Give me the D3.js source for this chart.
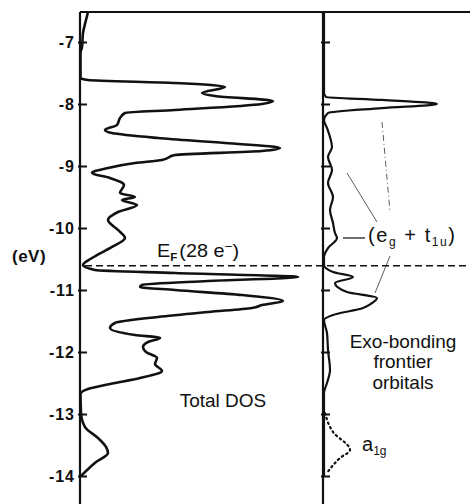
<!DOCTYPE html>
<html>
<head>
<meta charset="utf-8">
<script src="https://cdn.jsdelivr.net/npm/d3@7"></script>
<style>
  html, body { margin: 0; padding: 0; background: #fff; }
  svg { display: block; }
  text { font-family: "Liberation Sans", Arial, sans-serif; fill: #111; }
</style>
</head>
<body>
<script>
// ---------- data (energy in eV, DOS in arbitrary units) ----------
const tickValues = [-7, -8, -9, -10, -11, -12, -13, -14];
const tickLabels = ["-7", "-8", "-9", "-10", "-11", "-12", "-13", "-14"];

const totalE = [-6.516, -6.645, -6.855, -7.081, -7.18, -7.58, -7.613, -7.661, -7.726, -7.823, -7.871, -7.952, -8.0, -8.097, -8.145, -8.226, -8.339, -8.419, -8.468, -8.548, -8.629, -8.71, -8.758, -8.823, -8.903, -8.952, -9.032, -9.113, -9.194, -9.306, -9.435, -9.5, -9.548, -9.629, -9.742, -9.871, -10.032, -10.161, -10.306, -10.484, -10.597, -10.677, -10.726, -10.79, -10.855, -10.919, -10.952, -11.0, -11.081, -11.177, -11.242, -11.29, -11.355, -11.435, -11.532, -11.613, -11.726, -11.774, -11.839, -11.919, -12.0, -12.097, -12.194, -12.306, -12.419, -12.516, -12.597, -12.677, -12.984, -13.21, -13.387, -13.532, -13.629, -13.774, -13.935, -14.0];
const totalDos = [0.8, 0.6, 0.3, 0.2, 0.05, 0.05, 0.8, 9.5, 14.5, 12.2, 13.5, 19.3, 18.2, 9.5, 4.5, 4.0, 3.7, 2.5, 3.2, 7.8, 14.5, 20.0, 18.2, 9.5, 8.2, 5.5, 2.8, 1.2, 3.0, 4.4, 4.0, 5.5, 4.2, 5.7, 3.8, 2.8, 3.8, 4.5, 3.2, 1.2, 0.3, 1.5, 9.5, 21.8, 12.8, 6.2, 6.0, 9.5, 16.2, 20.3, 18.2, 17.2, 12.8, 7.8, 3.5, 3.0, 5.5, 8.0, 6.8, 6.3, 6.6, 7.7, 7.5, 8.2, 6.0, 3.0, 0.8, 0.05, 0.1, 0.5, 1.8, 2.6, 2.8, 1.6, 0.5, 0.1];

const exoE = [-6.516, -7.823, -7.887, -7.935, -8.0, -8.065, -8.145, -8.258, -8.387, -8.532, -8.694, -8.855, -9.065, -9.274, -9.5, -9.71, -9.919, -10.081, -10.161, -10.323, -10.468, -10.597, -10.71, -10.79, -10.887, -11.032, -11.129, -11.21, -11.29, -11.403, -11.484, -11.694, -11.968, -12.29, -12.5, -12.661, -14.0];
const exoDos = [0.1, 0.1, 0.3, 5.9, 11.4, 5.9, 0.5, 0.1, 0.4, 0.7, 0.9, 0.5, 0.9, 0.5, 1.0, 0.7, 1.0, 1.2, 1.4, 0.5, 0.1, 0.1, 1.0, 3.0, 1.2, 2.4, 5.4, 4.9, 4.0, 1.0, 0.1, 0.4, 0.5, 0.7, 0.4, 0.1, 0.1];

const a1gE = [-12.984, -13.29, -13.58, -13.71, -13.95];
const a1gDos = [0.2, 1.0, 2.7, 1.7, 0.4];

const fermiE = -10.61;

// ---------- layout ----------
const W = 470, H = 504;
const eTop = -6.516, eBottom = -14.46;
const svg = d3.select("body").append("svg").attr("width", W).attr("height", H);

const y = d3.scaleLinear().domain([-7, -14]).range([42, 476]);
const xL = d3.scaleLinear().domain([0, 10]).range([80, 180]);
const xR = d3.scaleLinear().domain([0, 10]).range([323, 423]);

// frame: top line and the two vertical axes
svg.append("line").attr("x1", xL(0)).attr("x2", W).attr("y1", y(eTop)).attr("y2", y(eTop))
  .attr("stroke", "#111").attr("stroke-width", 2);

function drawAxis(xs) {
  const g = svg.append("g").attr("transform", `translate(${xs(0)},0)`);
  const ax = d3.axisLeft(y).tickValues(tickValues)
    .tickFormat((d, i) => tickLabels[i]).tickSizeInner(-7).tickSizeOuter(0).tickPadding(5);
  g.call(ax);
  g.select(".domain").remove();
  g.selectAll(".tick line").attr("stroke", "#111").attr("stroke-width", 2).attr("x1", -2);
  g.append("line").attr("x1", 0).attr("x2", 0).attr("y1", y(eTop)).attr("y2", y(eBottom))
    .attr("stroke", "#111").attr("stroke-width", 2.2);
  return g;
}
const gL = drawAxis(xL);
gL.selectAll(".tick text").attr("font-size", 16).attr("font-weight", "bold")
  .attr("font-family", "'Liberation Sans', Arial, sans-serif").attr("fill", "#111")
  .attr("letter-spacing", "1px");
const gR = drawAxis(xR);
gR.selectAll(".tick text").remove();

// (eV) label
svg.append("text").attr("x", 12).attr("y", y(-10.55))
  .attr("font-size", 17).attr("font-weight", "bold").attr("letter-spacing", "0.5px").text("(eV)");

// Fermi level dashed line
svg.append("line").attr("x1", xL(0.5)).attr("x2", W).attr("y1", y(fermiE)).attr("y2", y(fermiE))
  .attr("stroke", "#111").attr("stroke-width", 1.4).attr("stroke-dasharray", "7,4");

// curves
const lineL = d3.line().x(d => xL(d[1])).y(d => y(d[0])).curve(d3.curveMonotoneY);
const lineR = d3.line().x(d => xR(d[1])).y(d => y(d[0])).curve(d3.curveMonotoneY);

svg.append("path").datum(totalE.map((e, i) => [e, totalDos[i]]))
  .attr("d", lineL).attr("fill", "none").attr("stroke", "#111").attr("stroke-width", 2.6)
  .attr("stroke-linejoin", "round");

svg.append("path").datum(exoE.map((e, i) => [e, exoDos[i]]))
  .attr("d", lineR).attr("fill", "none").attr("stroke", "#111").attr("stroke-width", 2.2)
  .attr("stroke-linejoin", "round");

svg.append("path").datum(a1gE.map((e, i) => [e, a1gDos[i]]))
  .attr("d", lineR).attr("fill", "none").attr("stroke", "#111").attr("stroke-width", 2.2)
  .attr("stroke-dasharray", "1.5,3.5").attr("stroke-linecap", "round");

// leader lines for (eg + t1u)
const leaders = [
  { a: [-9.113, 2.4], b: [-9.903, 5.4], dash: null },
  { a: [-8.29, 5.9], b: [-9.742, 6.7], dash: "6,3,1,3" },
  { a: [-10.452, 6.7], b: [-11.048, 5.2], dash: null },
  { a: [-10.161, 2.0], b: [-10.161, 4.2], dash: null, w: 1.4 }
];
leaders.forEach(l => {
  svg.append("line").attr("x1", xR(l.a[1])).attr("y1", y(l.a[0]))
    .attr("x2", xR(l.b[1])).attr("y2", y(l.b[0]))
    .attr("stroke", "#333").attr("stroke-width", l.w || 0.8)
    .attr("stroke-dasharray", l.dash);
});

// E_F label
const ef = svg.append("text").attr("x", xL(7.7)).attr("y", y(-10.47)).attr("font-size", 19)
  .attr("textLength", 82).attr("lengthAdjust", "spacingAndGlyphs");
ef.append("tspan").text("E");
ef.append("tspan").attr("font-size", 11).attr("dy", 4).attr("font-weight", "bold").text("F");
ef.append("tspan").attr("dy", -4).attr("dx", 2).text("(28 e");
ef.append("tspan").attr("font-size", 13).attr("dy", -6).text("−");
ef.append("tspan").attr("dy", 6).text(")");

// Total DOS
svg.append("text").attr("x", xL(14.3)).attr("y", y(-12.88)).attr("text-anchor", "middle")
  .attr("font-size", 19).text("Total DOS");

// Exo-bonding frontier orbitals
const exoLines = ["Exo-bonding", "frontier", "orbitals"];
exoLines.forEach((t, i) => {
  svg.append("text").attr("x", xR(8.0)).attr("y", y(-11.93) + i * 20.5)
    .attr("text-anchor", "middle").attr("font-size", 19).text(t);
});

// (eg + t1u)
const eg = svg.append("text").attr("x", xR(4.5)).attr("y", y(-10.23)).attr("font-size", 20)
  .attr("textLength", 87).attr("lengthAdjust", "spacing");
eg.append("tspan").text("(e");
eg.append("tspan").attr("font-size", 12).attr("dy", 4).text("g");
eg.append("tspan").attr("dy", -4).text(" + t");
eg.append("tspan").attr("font-size", 12).attr("dy", 4).text("1u");
eg.append("tspan").attr("dy", -4).text(")");

// a1g
const ag = svg.append("text").attr("x", xR(3.9)).attr("y", y(-13.59)).attr("font-size", 20);
ag.append("tspan").text("a");
ag.append("tspan").attr("font-size", 12).attr("dy", 4).text("1g");
</script>
</body>
</html>
